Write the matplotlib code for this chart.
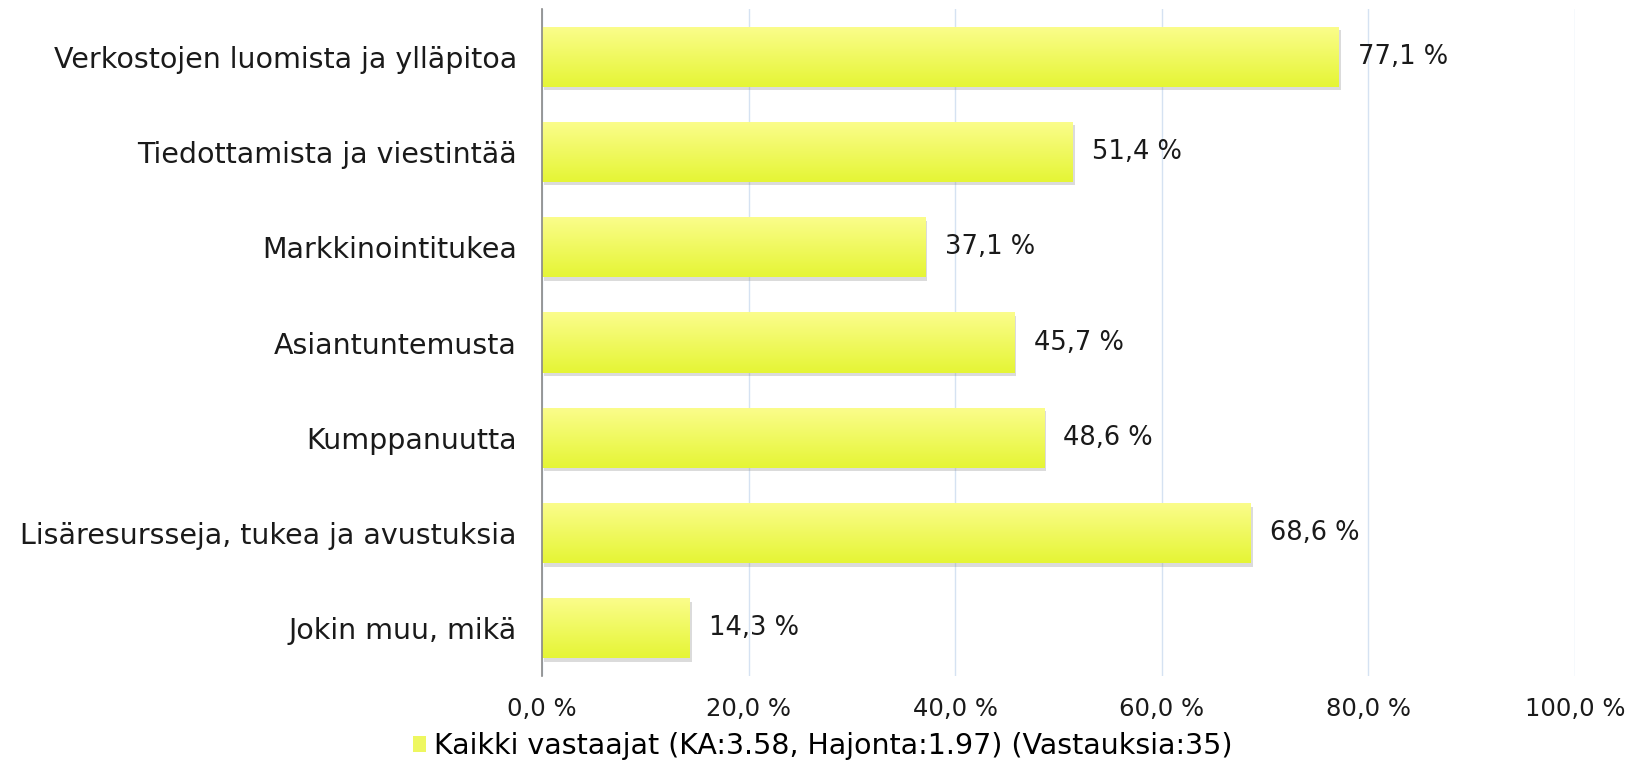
import numpy as np
import matplotlib
matplotlib.use("Agg")
import matplotlib.pyplot as plt
from matplotlib import patheffects as pe
from matplotlib.patches import Rectangle
from matplotlib.colors import LinearSegmentedColormap

categories = [
    "Verkostojen luomista ja ylläpitoa",
    "Tiedottamista ja viestintää",
    "Markkinointitukea",
    "Asiantuntemusta",
    "Kumppanuutta",
    "Lisäresursseja, tukea ja avustuksia",
    "Jokin muu, mikä",
]
values = [77.1, 51.4, 37.1, 45.7, 48.6, 68.6, 14.3]
xticks = [0, 20, 40, 60, 80, 100]
legend_label = "Kaikki vastaajat (KA:3.58, Hajonta:1.97) (Vastauksia:35)"

plt.rcParams['font.family'] = ['DejaVu Sans']

fig = plt.figure(figsize=(16.45, 7.61), dpi=100)
ax = fig.add_axes([542/1645, 1 - 676/761, (1575 - 542)/1645, (676 - 9)/761])

y = np.arange(len(categories))
bar_h = 0.63
grad = LinearSegmentedColormap.from_list("g", ["#FBFD8C", "#E5F535"])

bars = ax.barh(y, values, height=bar_h, color="#EEF760", zorder=3,
               path_effects=[pe.SimplePatchShadow(offset=(1.5, -2.5), shadow_rgbFace="#8a8a8a", alpha=0.3), pe.Normal()])
gimg = np.linspace(0, 1, 100).reshape(-1, 1)
for b in bars:
    x0, y0 = b.get_x(), b.get_y()
    w, h = b.get_width(), b.get_height()
    im = ax.imshow(gimg, cmap=grad, aspect="auto", extent=(x0, x0 + w, y0 + h, y0),
                   origin="upper", zorder=3.5, interpolation="bilinear")
    im.set_clip_path(b)

ax.set_xlim(0, 100)
ax.set_ylim(len(categories) - 0.5, -0.5)
ax.set_xticks(xticks)
ax.set_xticklabels([f"{t:.1f} %".replace(".", ",") for t in xticks], fontsize=17.5, color="#1a1a1a")
ax.set_yticks(y)
ax.set_yticklabels(categories, fontsize=20.5, color="#1a1a1a")
ax.tick_params(axis="both", length=0)
ax.tick_params(axis="y", pad=18)
ax.tick_params(axis="x", pad=15)
ax.grid(axis="x", color="#D5E2F2", linewidth=1, zorder=0)
for s in ["top", "right", "bottom"]:
    ax.spines[s].set_visible(False)
ax.spines["left"].set_color("#888888")
ax.spines["left"].set_linewidth(1.2)
ax.spines["left"].set_zorder(4)

for yi, v in zip(y, values):
    ax.annotate(f"{v:.1f} %".replace(".", ","), (v, yi), xytext=(14, 0), textcoords="offset points",
                va="center", ha="left", fontsize=18.5, color="#1a1a1a")

handle = Rectangle((0, 0), 1, 1, facecolor="#EEF760")
fig.legend([handle], [legend_label], loc="center", bbox_to_anchor=(823/1645, 1 - 746/761),
           frameon=False, fontsize=20.5, handlelength=0.45, handleheight=0.45, handletextpad=0.3,
           borderpad=0, borderaxespad=0)

fig.savefig("out.png", dpi=100, facecolor="white")
